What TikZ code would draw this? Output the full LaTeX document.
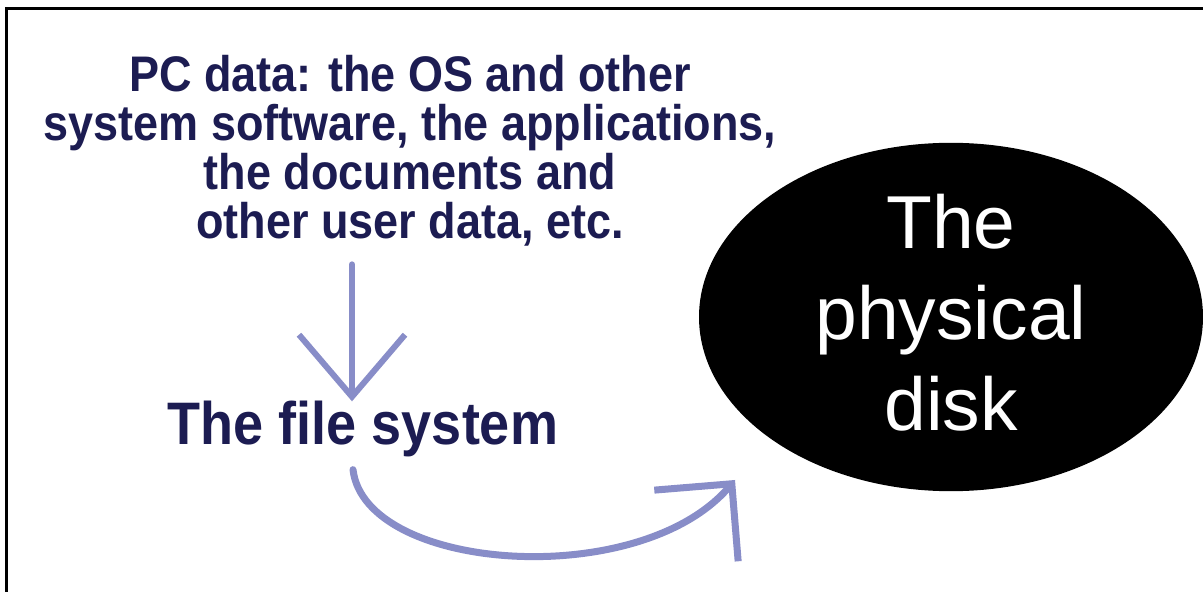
\documentclass[tikz,border=0pt]{standalone}
\usepackage{fontspec}
\setmainfont{Liberation Sans}
\newfontfamily\narrowsans[FakeStretch=0.9]{Liberation Sans}
\usepackage{tikz}
\usetikzlibrary{shapes.geometric,arrows.meta}

\definecolor{navy}{RGB}{28,28,82}
\definecolor{flowblue}{RGB}{136,141,200}

\tikzset{
  label text/.style={text=navy, font=\narrowsans\bfseries, inner sep=0pt},
  flow/.style={draw=flowblue, line width=6pt, line cap=round},
}

\begin{document}
\begin{tikzpicture}[x=1pt,y=1pt]
\useasboundingbox (0,0) rectangle (1203,592);
\fill[white] (0,0) rectangle (1203,592);

    % Frame, only top and left are visible
    \draw[line width=3pt] (6,0) -- (6,583) -- (1203,583);

    % Text about the data
    \node[label text, align=center, anchor=north,
      font=\narrowsans\bfseries\fontsize{50}{49}\selectfont] (pcdata) at (410,537)
      {PC data: the OS and other\\system software, the applications,\\the documents and\\other user data, etc.};

    % The file system
    \node[label text, anchor=base, font=\narrowsans\bfseries\fontsize{60}{60}\selectfont] (fs) at (363,147) {The file system};

    % The disk
    \node[ellipse, fill=black, minimum width=504pt, minimum height=345pt, inner sep=0pt,
      text=white, align=center, text depth=10pt, font=\fontsize{75}{91}\selectfont] (disk) at (951,275)
      {The\\physical\\disk};

    % Arrow down to the file system
    \draw[flow, shorten <=18pt, -{Straight Barb[length=62pt, width=106pt]}]
      ([xshift=-11pt]fs.north |- pcdata.south) -- ([xshift=-11pt]fs.north);

    % Arrow from the file system over to the disk
    \coordinate (tip) at (735,112);
    \draw[flow, line width=7pt, -{Straight Barb[length=55pt, width=110pt]}]
      ([xshift=-10pt,yshift=-12pt]fs.south) .. controls (365,20) and (640,0) .. (tip);

\end{tikzpicture}
\end{document}
